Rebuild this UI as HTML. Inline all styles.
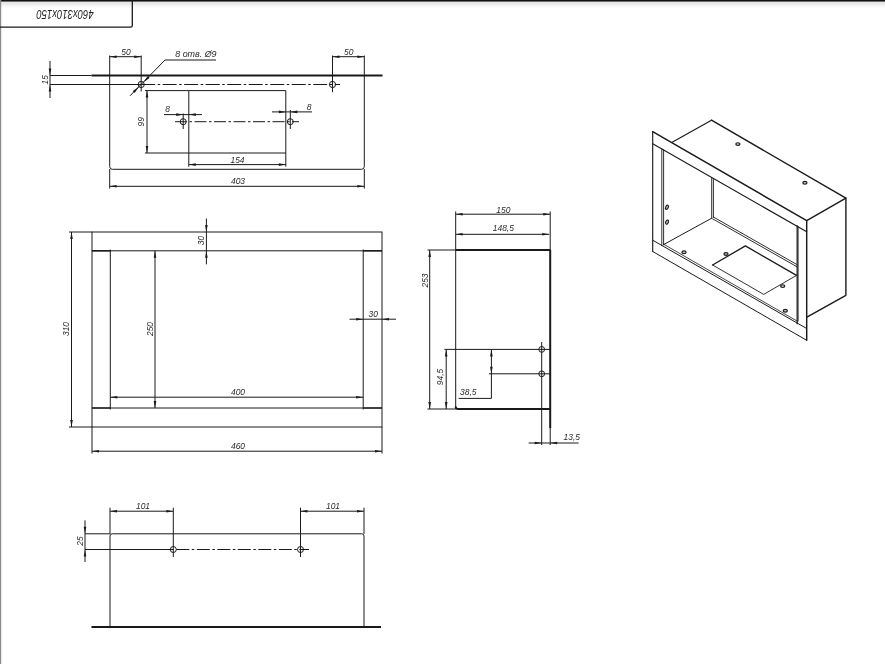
<!DOCTYPE html>
<html><head><meta charset="utf-8"><title>460x310x150</title>
<style>
html,body{margin:0;padding:0;background:#fff;}
body{width:885px;height:664px;overflow:hidden;}
svg{display:block;filter:grayscale(1);}
svg text{font-family:"Liberation Sans",sans-serif;font-style:italic;fill:#1c1c24;stroke:none;opacity:0.96;}
</style></head><body>
<svg width="885" height="664" viewBox="0 0 885 664" stroke="#1a1a1a" fill="none">
<defs><linearGradient id="tg" x1="0" y1="0" x2="0" y2="1"><stop offset="0" stop-color="#e2e2e2"/><stop offset="1" stop-color="#ffffff"/></linearGradient></defs>
<rect x="0" y="0" width="885" height="664" fill="#ffffff" stroke="none"/>
<rect x="0" y="0" width="885" height="1.6" fill="#111" stroke="none"/>
<rect x="0" y="2" width="885" height="6" fill="url(#tg)" stroke="none"/>
<rect x="0" y="0" width="1.2" height="664" fill="#8a8a8a" stroke="none"/>
<path d="M0,27.2 H130.5 Q132.3,27.2 132.3,25.4 V0" stroke-width="1.3" fill="none" />
<text x="0" y="0" font-size="13" text-anchor="middle" transform="translate(65 9.6) rotate(180) scale(0.735 1)" >460x310x150</text>
<line x1="91.5" y1="75.5" x2="382.5" y2="75.5" stroke-width="2.0" />
<line x1="50" y1="75.5" x2="91.5" y2="75.5" stroke-width="1.0" />
<path d="M109.7,55.5 V166.5 Q109.7,169.3 112.5,169.3 H361.5 Q364.3,169.3 364.3,166.5 V55.5" stroke-width="1.0" fill="none" />
<line x1="109.7" y1="169" x2="109.7" y2="188.5" stroke-width="1.0" />
<line x1="364.3" y1="169" x2="364.3" y2="188.5" stroke-width="1.0" />
<line x1="50" y1="84.5" x2="141.2" y2="84.5" stroke-width="1.0" />
<line x1="141.2" y1="84.5" x2="340" y2="84.5" stroke-width="1.0" stroke-dasharray="14 2.5 2.5 2.5"/>
<circle cx="141.2" cy="84.5" r="3.1" stroke-width="1.0" fill="none"/>
<circle cx="332.5" cy="84.5" r="3.1" stroke-width="1.0" fill="none"/>
<line x1="141.2" y1="55.5" x2="141.2" y2="91.5" stroke-width="1.0" />
<line x1="332.5" y1="55.5" x2="332.5" y2="92.2" stroke-width="1.0" />
<path d="M130,95.8 L165,60 H216" stroke-width="1.0" fill="none" />
<polygon points="139.01,86.69 134.59,92.88 132.82,91.11" fill="#1a1a1a" stroke="none"/>
<polygon points="143.39,82.31 147.81,76.12 149.58,77.89" fill="#1a1a1a" stroke="none"/>
<text x="0" y="0" font-size="9.6" text-anchor="start" transform="translate(175.2 57.3) scale(0.93 1)" >8 отв. Ø9</text>
<line x1="109.7" y1="56.7" x2="141.2" y2="56.7" stroke-width="1.0" />
<polygon points="109.70,56.70 116.70,55.40 116.70,58.00" fill="#1a1a1a" stroke="none"/>
<polygon points="141.20,56.70 134.20,58.00 134.20,55.40" fill="#1a1a1a" stroke="none"/>
<text x="0" y="0" font-size="9.6" text-anchor="middle" transform="translate(126 54.7) scale(0.88 1)" >50</text>
<line x1="332.5" y1="56.7" x2="364.3" y2="56.7" stroke-width="1.0" />
<polygon points="332.50,56.70 339.50,55.40 339.50,58.00" fill="#1a1a1a" stroke="none"/>
<polygon points="364.30,56.70 357.30,58.00 357.30,55.40" fill="#1a1a1a" stroke="none"/>
<text x="0" y="0" font-size="9.6" text-anchor="middle" transform="translate(348.8 54.7) scale(0.88 1)" >50</text>
<line x1="50" y1="61" x2="50" y2="98" stroke-width="1.0" />
<polygon points="50.00,75.50 48.70,68.50 51.30,68.50" fill="#1a1a1a" stroke="none"/>
<polygon points="50.00,84.50 51.30,91.50 48.70,91.50" fill="#1a1a1a" stroke="none"/>
<text x="0" y="0" font-size="9.6" text-anchor="middle" transform="translate(48.3 79.8) rotate(-90) scale(0.88 1)" >15</text>
<path d="M188.8,166.7 V90.6 H285.8 V166.7" stroke-width="1.0" fill="none" />
<line x1="188.8" y1="153" x2="285.8" y2="153" stroke-width="1.0" />
<line x1="145" y1="90.6" x2="188.8" y2="90.6" stroke-width="1.0" />
<line x1="145" y1="153" x2="188.8" y2="153" stroke-width="1.0" />
<line x1="147" y1="90.6" x2="147" y2="153" stroke-width="1.0" />
<polygon points="147.00,90.60 148.30,97.60 145.70,97.60" fill="#1a1a1a" stroke="none"/>
<polygon points="147.00,153.00 145.70,146.00 148.30,146.00" fill="#1a1a1a" stroke="none"/>
<text x="0" y="0" font-size="9.6" text-anchor="middle" transform="translate(144.3 121.7) rotate(-90) scale(0.88 1)" >99</text>
<circle cx="183.2" cy="121.7" r="3.0" stroke-width="1.0" fill="none"/>
<circle cx="290.3" cy="121.7" r="3.0" stroke-width="1.0" fill="none"/>
<line x1="183.2" y1="113.5" x2="183.2" y2="129" stroke-width="1.0" />
<line x1="290.3" y1="110" x2="290.3" y2="129" stroke-width="1.0" />
<line x1="175" y1="121.7" x2="299" y2="121.7" stroke-width="1.0" stroke-dasharray="12 2.5 2.5 2.5"/>
<line x1="164" y1="114.6" x2="202" y2="114.6" stroke-width="1.0" />
<polygon points="183.20,114.60 176.20,115.90 176.20,113.30" fill="#1a1a1a" stroke="none"/>
<polygon points="188.80,114.60 195.80,113.30 195.80,115.90" fill="#1a1a1a" stroke="none"/>
<text x="0" y="0" font-size="9.6" text-anchor="middle" transform="translate(167.5 112.3) scale(0.88 1)" >8</text>
<line x1="272" y1="111.9" x2="312" y2="111.9" stroke-width="1.0" />
<polygon points="285.80,111.90 278.80,113.20 278.80,110.60" fill="#1a1a1a" stroke="none"/>
<polygon points="290.30,111.90 297.30,110.60 297.30,113.20" fill="#1a1a1a" stroke="none"/>
<text x="0" y="0" font-size="9.6" text-anchor="middle" transform="translate(309 109.5) scale(0.88 1)" >8</text>
<line x1="188.8" y1="164.6" x2="285.8" y2="164.6" stroke-width="1.0" />
<polygon points="188.80,164.60 195.80,163.30 195.80,165.90" fill="#1a1a1a" stroke="none"/>
<polygon points="285.80,164.60 278.80,165.90 278.80,163.30" fill="#1a1a1a" stroke="none"/>
<text x="0" y="0" font-size="9.6" text-anchor="middle" transform="translate(237.5 162.6) scale(0.88 1)" >154</text>
<line x1="109.7" y1="186.3" x2="364.3" y2="186.3" stroke-width="1.0" />
<polygon points="109.70,186.30 116.70,185.00 116.70,187.60" fill="#1a1a1a" stroke="none"/>
<polygon points="364.30,186.30 357.30,187.60 357.30,185.00" fill="#1a1a1a" stroke="none"/>
<text x="0" y="0" font-size="9.6" text-anchor="middle" transform="translate(238 184.2) scale(0.88 1)" >403</text>
<rect x="92" y="232" width="290" height="195" fill="none" stroke-width="1"/>
<line x1="92" y1="250.8" x2="382" y2="250.8" stroke-width="1.0" />
<line x1="92" y1="408" x2="382" y2="408" stroke-width="1.0" />
<line x1="110.3" y1="249.5" x2="110.3" y2="409.5" stroke-width="1.0" />
<line x1="363.2" y1="249.5" x2="363.2" y2="409.5" stroke-width="1.0" />
<line x1="92" y1="250.8" x2="110.3" y2="250.8" stroke-width="1.5" />
<line x1="363.2" y1="250.8" x2="382" y2="250.8" stroke-width="1.5" />
<line x1="92" y1="408" x2="110.3" y2="408" stroke-width="1.3" />
<line x1="363.2" y1="408" x2="382" y2="408" stroke-width="1.3" />
<line x1="69" y1="232" x2="92" y2="232" stroke-width="1.0" />
<line x1="69" y1="427" x2="92" y2="427" stroke-width="1.0" />
<line x1="71.5" y1="232" x2="71.5" y2="427" stroke-width="1.0" />
<polygon points="71.50,232.00 72.80,239.00 70.20,239.00" fill="#1a1a1a" stroke="none"/>
<polygon points="71.50,427.00 70.20,420.00 72.80,420.00" fill="#1a1a1a" stroke="none"/>
<text x="0" y="0" font-size="9.6" text-anchor="middle" transform="translate(69.3 329) rotate(-90) scale(0.88 1)" >310</text>
<line x1="155" y1="250.8" x2="155" y2="408" stroke-width="1.0" />
<polygon points="155.00,250.80 156.30,257.80 153.70,257.80" fill="#1a1a1a" stroke="none"/>
<polygon points="155.00,408.00 153.70,401.00 156.30,401.00" fill="#1a1a1a" stroke="none"/>
<text x="0" y="0" font-size="9.6" text-anchor="middle" transform="translate(152.7 329) rotate(-90) scale(0.88 1)" >250</text>
<line x1="206.4" y1="218.5" x2="206.4" y2="264.3" stroke-width="1.0" />
<polygon points="206.40,232.00 205.10,225.00 207.70,225.00" fill="#1a1a1a" stroke="none"/>
<polygon points="206.40,250.80 207.70,257.80 205.10,257.80" fill="#1a1a1a" stroke="none"/>
<text x="0" y="0" font-size="9.6" text-anchor="middle" transform="translate(204.3 240.6) rotate(-90) scale(0.88 1)" >30</text>
<line x1="349.5" y1="319.2" x2="396" y2="319.2" stroke-width="1.0" />
<polygon points="363.20,319.20 356.20,320.50 356.20,317.90" fill="#1a1a1a" stroke="none"/>
<polygon points="382.00,319.20 389.00,317.90 389.00,320.50" fill="#1a1a1a" stroke="none"/>
<text x="0" y="0" font-size="9.6" text-anchor="middle" transform="translate(373.3 317.3) scale(0.88 1)" >30</text>
<line x1="110.3" y1="397.2" x2="363.2" y2="397.2" stroke-width="1.0" />
<polygon points="110.30,397.20 117.30,395.90 117.30,398.50" fill="#1a1a1a" stroke="none"/>
<polygon points="363.20,397.20 356.20,398.50 356.20,395.90" fill="#1a1a1a" stroke="none"/>
<text x="0" y="0" font-size="9.6" text-anchor="middle" transform="translate(238 395.3) scale(0.88 1)" >400</text>
<line x1="92" y1="427" x2="92" y2="453.5" stroke-width="1.0" />
<line x1="382" y1="427" x2="382" y2="453.5" stroke-width="1.0" />
<line x1="92" y1="451.2" x2="382" y2="451.2" stroke-width="1.0" />
<polygon points="92.00,451.20 99.00,449.90 99.00,452.50" fill="#1a1a1a" stroke="none"/>
<polygon points="382.00,451.20 375.00,452.50 375.00,449.90" fill="#1a1a1a" stroke="none"/>
<text x="0" y="0" font-size="9.6" text-anchor="middle" transform="translate(238 449.3) scale(0.88 1)" >460</text>
<line x1="455.7" y1="211.5" x2="455.7" y2="409" stroke-width="1.0" />
<line x1="550.2" y1="211.5" x2="550.2" y2="250" stroke-width="1.0" />
<line x1="550.2" y1="250" x2="550.2" y2="428" stroke-width="2.0" />
<line x1="550.2" y1="428" x2="550.2" y2="445" stroke-width="1.0" />
<line x1="455.7" y1="250" x2="550.2" y2="250" stroke-width="2.0" />
<line x1="427.5" y1="250" x2="455.7" y2="250" stroke-width="1.0" />
<path d="M455.7,406.5 Q455.7,409 458,409 H550.2" stroke-width="2.0" fill="none" />
<line x1="427.5" y1="409" x2="455.7" y2="409" stroke-width="1.0" />
<line x1="455.7" y1="214.2" x2="550.2" y2="214.2" stroke-width="1.0" />
<polygon points="455.70,214.20 462.70,212.90 462.70,215.50" fill="#1a1a1a" stroke="none"/>
<polygon points="550.20,214.20 543.20,215.50 543.20,212.90" fill="#1a1a1a" stroke="none"/>
<text x="0" y="0" font-size="9.6" text-anchor="middle" transform="translate(503.3 213.1) scale(0.88 1)" >150</text>
<line x1="455.7" y1="234.3" x2="549.2" y2="234.3" stroke-width="1.0" />
<polygon points="455.70,234.30 462.70,233.00 462.70,235.60" fill="#1a1a1a" stroke="none"/>
<polygon points="549.20,234.30 542.20,235.60 542.20,233.00" fill="#1a1a1a" stroke="none"/>
<text x="0" y="0" font-size="9.6" text-anchor="middle" transform="translate(503.3 231.0) scale(0.88 1)" >148,5</text>
<line x1="429.7" y1="250" x2="429.7" y2="409" stroke-width="1.0" />
<polygon points="429.70,250.00 431.00,257.00 428.40,257.00" fill="#1a1a1a" stroke="none"/>
<polygon points="429.70,409.00 428.40,402.00 431.00,402.00" fill="#1a1a1a" stroke="none"/>
<text x="0" y="0" font-size="9.6" text-anchor="middle" transform="translate(427.5 280.5) rotate(-90) scale(0.88 1)" >253</text>
<line x1="446.2" y1="349.4" x2="446.2" y2="409" stroke-width="1.0" />
<polygon points="446.20,349.40 447.50,356.40 444.90,356.40" fill="#1a1a1a" stroke="none"/>
<polygon points="446.20,409.00 444.90,402.00 447.50,402.00" fill="#1a1a1a" stroke="none"/>
<text x="0" y="0" font-size="9.6" text-anchor="middle" transform="translate(443.2 377) rotate(-90) scale(0.88 1)" >94,5</text>
<line x1="444.5" y1="349.4" x2="550.2" y2="349.4" stroke-width="1.0" />
<line x1="489" y1="373.8" x2="550.2" y2="373.8" stroke-width="1.0" />
<circle cx="541.7" cy="349.4" r="2.9" stroke-width="1.0" fill="none"/>
<circle cx="541.7" cy="373.8" r="2.9" stroke-width="1.0" fill="none"/>
<line x1="541.7" y1="342" x2="541.7" y2="445" stroke-width="1.0" />
<path d="M491.4,349.4 V398.4 H458.6" stroke-width="1.0" fill="none" />
<polygon points="491.40,349.40 492.70,356.40 490.10,356.40" fill="#1a1a1a" stroke="none"/>
<polygon points="491.40,373.80 490.10,366.80 492.70,366.80" fill="#1a1a1a" stroke="none"/>
<text x="0" y="0" font-size="9.6" text-anchor="middle" transform="translate(468.3 394.9) scale(0.88 1)" >38,5</text>
<line x1="528.6" y1="443" x2="578.6" y2="443" stroke-width="1.0" />
<polygon points="541.70,443.00 534.70,444.30 534.70,441.70" fill="#1a1a1a" stroke="none"/>
<polygon points="550.20,443.00 557.20,441.70 557.20,444.30" fill="#1a1a1a" stroke="none"/>
<text x="0" y="0" font-size="9.6" text-anchor="middle" transform="translate(571.8 440) scale(0.88 1)" >13,5</text>
<path d="M110,627 V536 Q110,533.8 112.2,533.8 H361.8 Q364,533.8 364,536 V627" stroke-width="1.0" fill="none" />
<line x1="110" y1="507.7" x2="110" y2="534" stroke-width="1.0" />
<line x1="364" y1="507.7" x2="364" y2="534" stroke-width="1.0" />
<line x1="91.5" y1="627" x2="381" y2="627" stroke-width="2.2" />
<line x1="85" y1="533.8" x2="110" y2="533.8" stroke-width="1.0" />
<line x1="85" y1="549.5" x2="173.3" y2="549.5" stroke-width="1.0" />
<circle cx="173.3" cy="549.5" r="3.0" stroke-width="1.0" fill="none"/>
<circle cx="300.5" cy="549.5" r="3.0" stroke-width="1.0" fill="none"/>
<line x1="173.3" y1="507.7" x2="173.3" y2="557" stroke-width="1.0" />
<line x1="300.5" y1="507.7" x2="300.5" y2="557" stroke-width="1.0" />
<line x1="176.3" y1="549.5" x2="309" y2="549.5" stroke-width="1.0" stroke-dasharray="13 2.5 2.5 2.5"/>
<line x1="110" y1="511.2" x2="173.3" y2="511.2" stroke-width="1.0" />
<polygon points="110.00,511.20 117.00,509.90 117.00,512.50" fill="#1a1a1a" stroke="none"/>
<polygon points="173.30,511.20 166.30,512.50 166.30,509.90" fill="#1a1a1a" stroke="none"/>
<text x="0" y="0" font-size="9.6" text-anchor="middle" transform="translate(143 509) scale(0.88 1)" >101</text>
<line x1="300.5" y1="511.2" x2="364" y2="511.2" stroke-width="1.0" />
<polygon points="300.50,511.20 307.50,509.90 307.50,512.50" fill="#1a1a1a" stroke="none"/>
<polygon points="364.00,511.20 357.00,512.50 357.00,509.90" fill="#1a1a1a" stroke="none"/>
<text x="0" y="0" font-size="9.6" text-anchor="middle" transform="translate(333 509) scale(0.88 1)" >101</text>
<line x1="85" y1="520.3" x2="85" y2="562" stroke-width="1.0" />
<polygon points="85.00,533.80 83.70,526.80 86.30,526.80" fill="#1a1a1a" stroke="none"/>
<polygon points="85.00,549.50 86.30,556.50 83.70,556.50" fill="#1a1a1a" stroke="none"/>
<text x="0" y="0" font-size="9.6" text-anchor="middle" transform="translate(82.8 541) rotate(-90) scale(0.88 1)" >25</text>
<path d="M652.7,131.7 L806.7,220.6 V340.3" stroke-width="1.45" fill="none" stroke-linejoin="round" stroke-linecap="round"/>
<path d="M806.7,340.3 L652.7,251.5" stroke-width="1.0" fill="none" stroke-linejoin="round" stroke-linecap="round"/>
<path d="M652.7,251.5 V131.7" stroke-width="1.15" fill="none" stroke-linejoin="round" stroke-linecap="round"/>
<path d="M652.7,143.8 L806.7,231.8" stroke-width="1.1" fill="none" stroke-linejoin="round" stroke-linecap="round"/>
<path d="M652.7,240.2 L806.7,328.5" stroke-width="1.0" fill="none" stroke-linejoin="round" stroke-linecap="round"/>
<path d="M672.6,142.1 L711.5,120.2" stroke-width="1.15" fill="none" stroke-linejoin="round" stroke-linecap="round"/>
<path d="M711.5,120.2 L845.9,198.1 L806.7,220.6" stroke-width="1.4" fill="none" stroke-linejoin="round" stroke-linecap="round"/>
<path d="M845.9,198.1 V295.3 L806.9,317.1" stroke-width="1.4" fill="none" stroke-linejoin="round" stroke-linecap="round"/>
<path d="M661.8,148.8 V245.6" stroke-width="0.9" fill="none" stroke-linejoin="round" stroke-linecap="round"/>
<path d="M663.6,149.8 V244.8" stroke-width="0.9" fill="none" stroke-linejoin="round" stroke-linecap="round"/>
<path d="M797.2,225.8 V323.7" stroke-width="1.3" fill="none" stroke-linejoin="round" stroke-linecap="round"/>
<path d="M798.4,226.6 V321" stroke-width="0.6" fill="none" stroke-linejoin="round" stroke-linecap="round"/>
<path d="M711.7,177.6 V218.2" stroke-width="0.9" fill="none" stroke-linejoin="round" stroke-linecap="round"/>
<path d="M713.4,178.5 V217.3" stroke-width="0.9" fill="none" stroke-linejoin="round" stroke-linecap="round"/>
<path d="M663.6,244.6 L711.7,218.2" stroke-width="1.0" fill="none" stroke-linejoin="round" stroke-linecap="round"/>
<path d="M713.4,217.0 L797,264.6" stroke-width="0.9" fill="none" stroke-linejoin="round" stroke-linecap="round"/>
<path d="M712.6,218.8 L797,266.8" stroke-width="0.9" fill="none" stroke-linejoin="round" stroke-linecap="round"/>
<path d="M663.8,244.3 L797,321.0" stroke-width="0.8" fill="none" stroke-linejoin="round" stroke-linecap="round"/>
<path d="M712.6,265 L745.4,245.9 L796.5,275.4" stroke-width="1.3" fill="none" stroke-linejoin="round" stroke-linecap="round"/>
<path d="M712.6,265 L763.7,294.4 L796.5,275.4" stroke-width="0.9" fill="none" stroke-linejoin="round" stroke-linecap="round"/>
<ellipse cx="667" cy="207.2" rx="1.3" ry="2.2" transform="rotate(25 667 207.2)" stroke-width="1.15" fill="#c4c4c4"/>
<ellipse cx="667" cy="222.1" rx="1.3" ry="2.2" transform="rotate(25 667 222.1)" stroke-width="1.15" fill="#c4c4c4"/>
<ellipse cx="737.9" cy="144.1" rx="2.1" ry="1.4" transform="rotate(0 737.9 144.1)" stroke-width="1.15" fill="#c4c4c4"/>
<ellipse cx="804.9" cy="182.8" rx="2.1" ry="1.4" transform="rotate(0 804.9 182.8)" stroke-width="1.15" fill="#c4c4c4"/>
<ellipse cx="684" cy="252.3" rx="2.1" ry="1.4" transform="rotate(0 684 252.3)" stroke-width="1.15" fill="#c4c4c4"/>
<ellipse cx="726" cy="254" rx="2.1" ry="1.4" transform="rotate(0 726 254)" stroke-width="1.15" fill="#c4c4c4"/>
<ellipse cx="782.7" cy="286.1" rx="2.1" ry="1.4" transform="rotate(0 782.7 286.1)" stroke-width="1.15" fill="#c4c4c4"/>
<ellipse cx="785.3" cy="310.8" rx="2.1" ry="1.4" transform="rotate(0 785.3 310.8)" stroke-width="1.15" fill="#c4c4c4"/>
</svg>
</body></html>
